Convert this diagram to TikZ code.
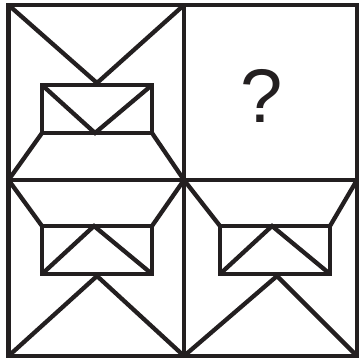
\documentclass[tikz,border=0pt]{standalone}
\usepackage{fontspec}
\setmainfont{Liberation Sans}
\definecolor{ink}{HTML}{231F20}
\begin{document}
\begin{tikzpicture}[x=1pt,y=-1pt,line width=4.3pt,
  fig/.style={draw=ink,line join=miter,line cap=butt}]
\useasboundingbox (0,0) rectangle (362,361);
% grid
\draw[fig] (8.5,5) rectangle (357,356);
\draw[fig] (184,5) -- (184,356);
\draw[fig] (8.5,180) -- (357,180);
% top-left cell
\draw[fig] (8.5,5) -- (97,83) -- (184,5);
\draw[fig] (42,85) rectangle (152,133);
\draw[fig] (42,85) -- (95,133) -- (152,85);
\draw[fig] (42,133) -- (8.5,180);
\draw[fig] (152,133) -- (184,180);
% top-right cell
\node[text=ink,font=\fontsize{76}{76}\selectfont] (q) at (262,96) {?};
% bottom-left cell
\draw[fig] (8.5,180) -- (42,226);
\draw[fig] (184,180) -- (152,226);
\draw[fig] (42,226) rectangle (152,274);
\draw[fig] (42,274) -- (94,226) -- (152,274);
\draw[fig] (8.5,356) -- (97,276) -- (184,356);
% bottom-right cell
\draw[fig] (184,180) -- (220,226);
\draw[fig] (357,180) -- (330,226);
\draw[fig] (220,226) rectangle (330,274);
\draw[fig] (220,274) -- (272,226) -- (330,274);
\draw[fig] (184,356) -- (277,276) -- (357,356);
\end{tikzpicture}
\end{document}
